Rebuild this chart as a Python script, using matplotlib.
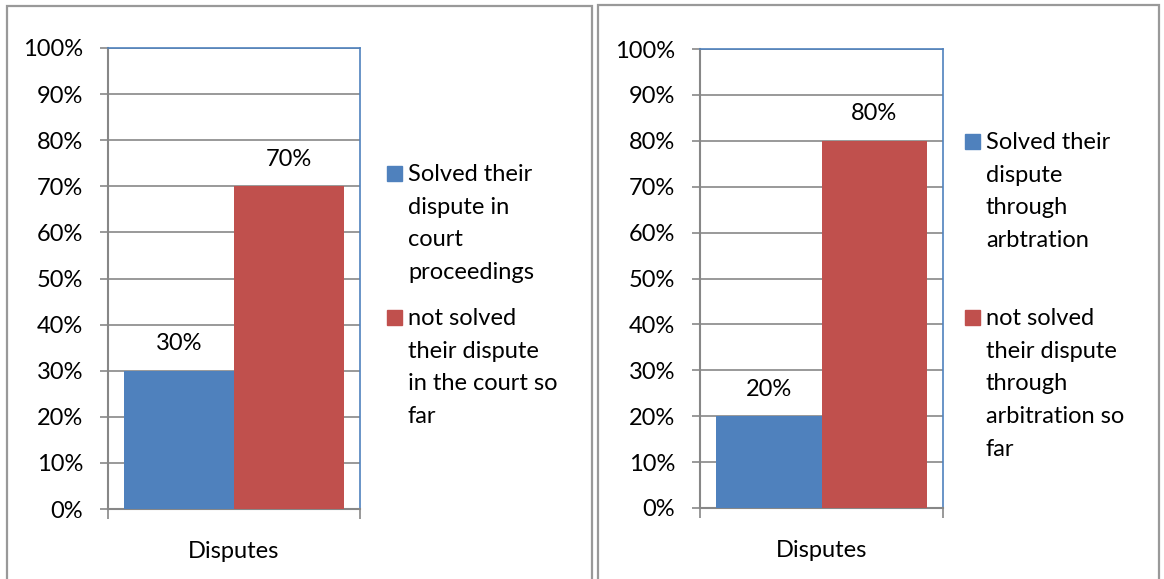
import matplotlib
matplotlib.use("Agg")
import matplotlib.pyplot as plt
from matplotlib.patches import Rectangle

plt.rcParams['font.family'] = ['Lato', 'DejaVu Sans']

# values for both charts
category = "Disputes"
court_values = [0.30, 0.70]
court_labels = ["Solved their\ndispute in\ncourt\nproceedings",
                "not solved\ntheir dispute\nin the court so\nfar"]
arb_values = [0.20, 0.80]
arb_labels = ["Solved their\ndispute\nthrough\narbtration",
              "not solved\ntheir dispute\nthrough\narbitration so\nfar"]
colors = ["#4F81BD", "#C0504D"]
yticks = [i / 10 for i in range(11)]
ytick_labels = ["%d%%" % round(t * 100) for t in yticks]

W, H = 1164, 579
fig = plt.figure(figsize=(W / 100, H / 100), dpi=100)
FS = 17
GRID = "#878787"


def px_axes(x0, y0, x1, y1):
    return fig.add_axes([x0 / W, 1 - y1 / H, (x1 - x0) / W, (y1 - y0) / H])


def panel_border(x0, y0, x1):
    fig.patches.append(Rectangle((x0 / W, -0.05), (x1 - x0) / W, 1.05 - y0 / H,
                                 transform=fig.transFigure, fill=False,
                                 edgecolor="#999999", linewidth=1.6))


def draw_chart(ax, values, gap):
    w = (1 - 2 * gap) / 2
    xs = [0.5 - w / 2, 0.5 + w / 2]
    bars = ax.bar(xs, values, width=w, color=colors, zorder=3)
    for b, v in zip(bars, values):
        ax.annotate("%d%%" % round(v * 100), (b.get_x() + b.get_width() / 2, v),
                    xytext=(0, 27), textcoords="offset pixels",
                    ha="center", va="center", fontsize=FS)
    ax.set_xlim(0, 1)
    ax.set_ylim(0, 1)
    ax.set_yticks(yticks)
    ax.set_yticklabels(ytick_labels)
    ax.yaxis.grid(True, color=GRID, linewidth=1.2, zorder=0)
    ax.set_xticks([0.5])
    ax.set_xticklabels([category])
    ax.set_xticks([0, 1], minor=True)
    ax.tick_params(axis="x", which="major", length=0, pad=23, labelsize=FS)
    ax.tick_params(axis="x", which="minor", length=7, width=1.2, color=GRID)
    ax.tick_params(axis="y", length=6, width=1.2, color=GRID, pad=12, labelsize=FS)
    for side in ("left", "bottom"):
        ax.spines[side].set_color(GRID)
        ax.spines[side].set_linewidth(1.5)
    for side in ("top", "right"):
        ax.spines[side].set_color("#4F81BD")
        ax.spines[side].set_linewidth(1.2)


def draw_legend(x_sq, entries):
    # entries: (label, baseline of first line)
    for (label, base), c in zip(entries, colors):
        fig.patches.append(Rectangle((x_sq / W, 1 - base / H), 15 / W, 15 / H,
                                     transform=fig.transFigure, color=c))
        for i, line in enumerate(label.split("\n")):
            fig.text((x_sq + 21) / W, 1 - (base + i * 32.7) / H, line,
                     fontsize=FS, va="baseline", ha="left")


panel_border(7, 6, 592)
panel_border(598, 5, 1159)

ax1 = px_axes(108, 48, 360, 509)
draw_chart(ax1, court_values, 0.064)
draw_legend(387, [(court_labels[0], 181), (court_labels[1], 325)])

ax2 = px_axes(700, 49, 943, 508)
draw_chart(ax2, arb_values, 0.065)
draw_legend(965, [(arb_labels[0], 149), (arb_labels[1], 325)])

fig.savefig("out.png", dpi=100)
